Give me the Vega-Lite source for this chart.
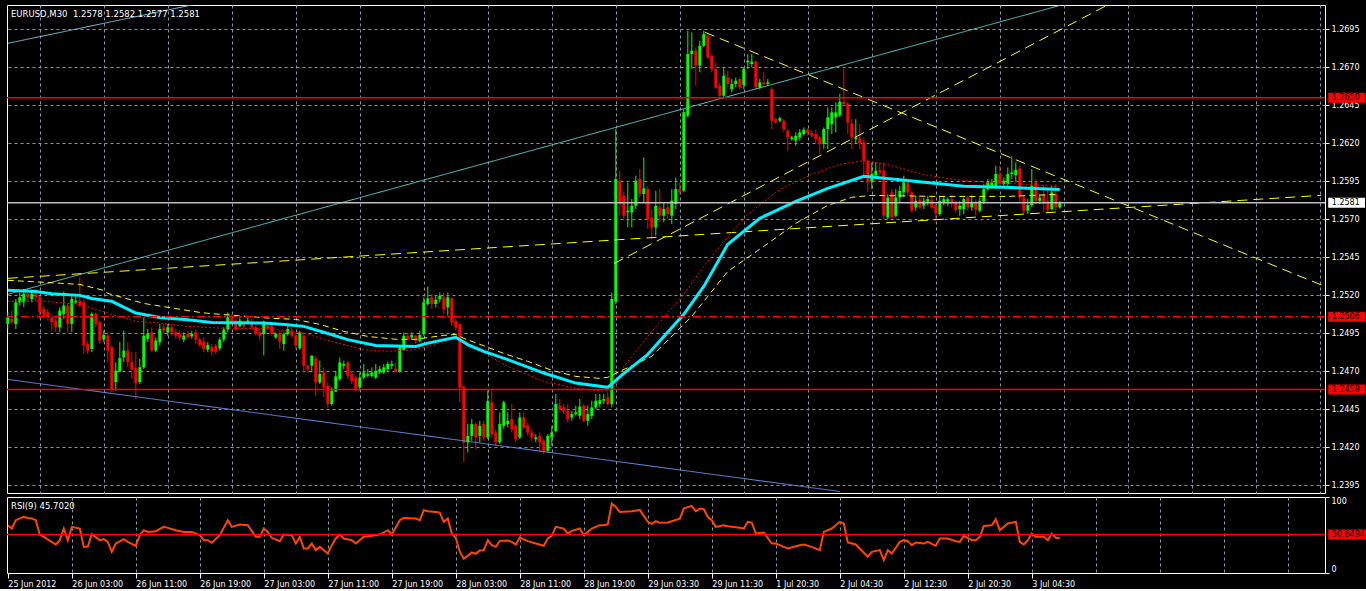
{
"$schema":"https://vega.github.io/schema/vega-lite/v6.json",
"background":"#000000",
"padding":{"left":5,"top":4,"right":0,"bottom":0},
"spacing":2,
"config":{"view":{"stroke":"#FFFFFF","strokeWidth":1},"axis":{"labelFont":"DejaVu Sans","labelFontSize":8,"labelColor":"#FFFFFF","tickColor":"#FFFFFF","gridColor":"#8594A3","gridDash":[3,3],"gridWidth":1,"domain":false}},
"datasets":{
"candles":[
{"i":0,"o":1.25012,"h":1.25089,"l":1.24979,"c":1.25056},
{"i":1,"o":1.25045,"h":1.25100,"l":1.25012,"c":1.25023},
{"i":2,"o":1.25012,"h":1.25176,"l":1.24979,"c":1.25154},
{"i":3,"o":1.25154,"h":1.25220,"l":1.25133,"c":1.25187},
{"i":4,"o":1.25154,"h":1.25242,"l":1.25122,"c":1.25209},
{"i":5,"o":1.25209,"h":1.25231,"l":1.25154,"c":1.25187},
{"i":6,"o":1.25176,"h":1.25225,"l":1.25154,"c":1.25209},
{"i":7,"o":1.25220,"h":1.25242,"l":1.25165,"c":1.25187},
{"i":8,"o":1.25187,"h":1.25198,"l":1.25045,"c":1.25089},
{"i":9,"o":1.25111,"h":1.25133,"l":1.25045,"c":1.25067},
{"i":10,"o":1.25089,"h":1.25111,"l":1.25034,"c":1.25056},
{"i":11,"o":1.25056,"h":1.25078,"l":1.24968,"c":1.25023},
{"i":12,"o":1.25034,"h":1.25067,"l":1.24957,"c":1.24990},
{"i":13,"o":1.24990,"h":1.25122,"l":1.24957,"c":1.25100},
{"i":14,"o":1.25078,"h":1.25225,"l":1.25045,"c":1.25133},
{"i":15,"o":1.25133,"h":1.25154,"l":1.24957,"c":1.25012},
{"i":16,"o":1.25012,"h":1.25209,"l":1.24957,"c":1.25176},
{"i":17,"o":1.25154,"h":1.25198,"l":1.25144,"c":1.25165},
{"i":18,"o":1.25165,"h":1.25319,"l":1.25122,"c":1.25133},
{"i":19,"o":1.25154,"h":1.25176,"l":1.24815,"c":1.24870},
{"i":20,"o":1.24881,"h":1.24903,"l":1.24815,"c":1.24837},
{"i":21,"o":1.24848,"h":1.25089,"l":1.24826,"c":1.25078},
{"i":22,"o":1.25078,"h":1.25089,"l":1.24990,"c":1.25012},
{"i":23,"o":1.25023,"h":1.25034,"l":1.24881,"c":1.24903},
{"i":24,"o":1.24909,"h":1.24968,"l":1.24892,"c":1.24941},
{"i":25,"o":1.24935,"h":1.24957,"l":1.24760,"c":1.24837},
{"i":26,"o":1.24859,"h":1.24870,"l":1.24563,"c":1.24585},
{"i":27,"o":1.24629,"h":1.24760,"l":1.24574,"c":1.24705},
{"i":28,"o":1.24699,"h":1.24892,"l":1.24694,"c":1.24787},
{"i":29,"o":1.24793,"h":1.24968,"l":1.24760,"c":1.24837},
{"i":30,"o":1.24837,"h":1.24892,"l":1.24727,"c":1.24760},
{"i":31,"o":1.24760,"h":1.24826,"l":1.24651,"c":1.24712},
{"i":32,"o":1.24721,"h":1.24826,"l":1.24519,"c":1.24625},
{"i":33,"o":1.24629,"h":1.24782,"l":1.24618,"c":1.24727},
{"i":34,"o":1.24727,"h":1.25056,"l":1.24716,"c":1.24935},
{"i":35,"o":1.24914,"h":1.24979,"l":1.24892,"c":1.24946},
{"i":36,"o":1.24957,"h":1.24990,"l":1.24826,"c":1.24837},
{"i":37,"o":1.24837,"h":1.24924,"l":1.24826,"c":1.24903},
{"i":38,"o":1.24892,"h":1.25012,"l":1.24870,"c":1.24979},
{"i":39,"o":1.24990,"h":1.25012,"l":1.24946,"c":1.24968},
{"i":40,"o":1.24957,"h":1.25012,"l":1.24935,"c":1.24990},
{"i":41,"o":1.24990,"h":1.25012,"l":1.24935,"c":1.24957},
{"i":42,"o":1.24957,"h":1.24979,"l":1.24914,"c":1.24935},
{"i":43,"o":1.24946,"h":1.24968,"l":1.24903,"c":1.24924},
{"i":44,"o":1.24909,"h":1.24957,"l":1.24892,"c":1.24935},
{"i":45,"o":1.24946,"h":1.24968,"l":1.24914,"c":1.24924},
{"i":46,"o":1.24930,"h":1.24968,"l":1.24914,"c":1.24946},
{"i":47,"o":1.24957,"h":1.24979,"l":1.24881,"c":1.24909},
{"i":48,"o":1.24909,"h":1.24924,"l":1.24859,"c":1.24874},
{"i":49,"o":1.24896,"h":1.24924,"l":1.24826,"c":1.24848},
{"i":50,"o":1.24843,"h":1.24892,"l":1.24826,"c":1.24874},
{"i":51,"o":1.24859,"h":1.24881,"l":1.24804,"c":1.24830},
{"i":52,"o":1.24870,"h":1.24881,"l":1.24815,"c":1.24830},
{"i":53,"o":1.24852,"h":1.24924,"l":1.24837,"c":1.24909},
{"i":54,"o":1.24909,"h":1.24990,"l":1.24892,"c":1.24975},
{"i":55,"o":1.24975,"h":1.25089,"l":1.24957,"c":1.25056},
{"i":56,"o":1.25049,"h":1.25078,"l":1.25012,"c":1.25027},
{"i":57,"o":1.25034,"h":1.25045,"l":1.24968,"c":1.24975},
{"i":58,"o":1.24997,"h":1.25056,"l":1.24990,"c":1.25034},
{"i":59,"o":1.25023,"h":1.25034,"l":1.24979,"c":1.24997},
{"i":60,"o":1.25023,"h":1.25056,"l":1.25012,"c":1.25034},
{"i":61,"o":1.25027,"h":1.25045,"l":1.24979,"c":1.24990},
{"i":62,"o":1.24990,"h":1.25001,"l":1.24935,"c":1.24946},
{"i":63,"o":1.24957,"h":1.24979,"l":1.24903,"c":1.24935},
{"i":64,"o":1.24946,"h":1.25034,"l":1.24804,"c":1.25023},
{"i":65,"o":1.25001,"h":1.25012,"l":1.24968,"c":1.24984},
{"i":66,"o":1.25001,"h":1.25012,"l":1.24935,"c":1.24946},
{"i":67,"o":1.24924,"h":1.24957,"l":1.24914,"c":1.24946},
{"i":68,"o":1.24951,"h":1.24968,"l":1.24848,"c":1.24897},
{"i":69,"o":1.24880,"h":1.24956,"l":1.24836,"c":1.24945},
{"i":70,"o":1.24945,"h":1.25000,"l":1.24934,"c":1.24978},
{"i":71,"o":1.24967,"h":1.24989,"l":1.24923,"c":1.24934},
{"i":72,"o":1.24934,"h":1.24956,"l":1.24847,"c":1.24869},
{"i":73,"o":1.24851,"h":1.24967,"l":1.24842,"c":1.24956},
{"i":74,"o":1.24934,"h":1.24956,"l":1.24693,"c":1.24737},
{"i":75,"o":1.24737,"h":1.24748,"l":1.24693,"c":1.24715},
{"i":76,"o":1.24737,"h":1.24807,"l":1.24693,"c":1.24803},
{"i":77,"o":1.24785,"h":1.24803,"l":1.24540,"c":1.24627},
{"i":78,"o":1.24627,"h":1.24770,"l":1.24616,"c":1.24682},
{"i":79,"o":1.24693,"h":1.24726,"l":1.24529,"c":1.24594},
{"i":80,"o":1.24605,"h":1.24627,"l":1.24463,"c":1.24485},
{"i":81,"o":1.24485,"h":1.24594,"l":1.24474,"c":1.24573},
{"i":82,"o":1.24566,"h":1.24704,"l":1.24562,"c":1.24667},
{"i":83,"o":1.24649,"h":1.24792,"l":1.24638,"c":1.24759},
{"i":84,"o":1.24737,"h":1.24770,"l":1.24715,"c":1.24748},
{"i":85,"o":1.24759,"h":1.24770,"l":1.24649,"c":1.24671},
{"i":86,"o":1.24682,"h":1.24704,"l":1.24616,"c":1.24638},
{"i":87,"o":1.24660,"h":1.24671,"l":1.24573,"c":1.24583},
{"i":88,"o":1.24594,"h":1.24693,"l":1.24573,"c":1.24660},
{"i":89,"o":1.24660,"h":1.24748,"l":1.24649,"c":1.24693},
{"i":90,"o":1.24671,"h":1.24715,"l":1.24660,"c":1.24682},
{"i":91,"o":1.24671,"h":1.24726,"l":1.24660,"c":1.24693},
{"i":92,"o":1.24660,"h":1.24748,"l":1.24649,"c":1.24704},
{"i":93,"o":1.24693,"h":1.24737,"l":1.24682,"c":1.24715},
{"i":94,"o":1.24693,"h":1.24748,"l":1.24682,"c":1.24726},
{"i":95,"o":1.24715,"h":1.24763,"l":1.24693,"c":1.24748},
{"i":96,"o":1.24737,"h":1.24770,"l":1.24715,"c":1.24748},
{"i":97,"o":1.24719,"h":1.24759,"l":1.24693,"c":1.24697},
{"i":98,"o":1.24697,"h":1.24869,"l":1.24693,"c":1.24858},
{"i":99,"o":1.24840,"h":1.24956,"l":1.24836,"c":1.24934},
{"i":100,"o":1.24934,"h":1.24956,"l":1.24901,"c":1.24912},
{"i":101,"o":1.24923,"h":1.24956,"l":1.24912,"c":1.24939},
{"i":102,"o":1.24934,"h":1.24939,"l":1.24880,"c":1.24901},
{"i":103,"o":1.24901,"h":1.24967,"l":1.24890,"c":1.24939},
{"i":104,"o":1.24945,"h":1.25187,"l":1.24934,"c":1.25154},
{"i":105,"o":1.25143,"h":1.25259,"l":1.25132,"c":1.25180},
{"i":106,"o":1.25187,"h":1.25208,"l":1.25110,"c":1.25143},
{"i":107,"o":1.25143,"h":1.25197,"l":1.25121,"c":1.25171},
{"i":108,"o":1.25176,"h":1.25219,"l":1.25154,"c":1.25197},
{"i":109,"o":1.25187,"h":1.25219,"l":1.25077,"c":1.25110},
{"i":110,"o":1.25121,"h":1.25219,"l":1.25066,"c":1.25187},
{"i":111,"o":1.25180,"h":1.25187,"l":1.25000,"c":1.25022},
{"i":112,"o":1.25033,"h":1.25044,"l":1.24967,"c":1.24989},
{"i":113,"o":1.25011,"h":1.25016,"l":1.24496,"c":1.24594},
{"i":114,"o":1.24601,"h":1.24605,"l":1.24101,"c":1.24233},
{"i":115,"o":1.24233,"h":1.24353,"l":1.24167,"c":1.24276},
{"i":116,"o":1.24276,"h":1.24386,"l":1.24244,"c":1.24353},
{"i":117,"o":1.24353,"h":1.24364,"l":1.24189,"c":1.24266},
{"i":118,"o":1.24276,"h":1.24375,"l":1.24233,"c":1.24342},
{"i":119,"o":1.24353,"h":1.24375,"l":1.24244,"c":1.24266},
{"i":120,"o":1.24266,"h":1.24573,"l":1.24255,"c":1.24507},
{"i":121,"o":1.24496,"h":1.24573,"l":1.24266,"c":1.24287},
{"i":122,"o":1.24298,"h":1.24320,"l":1.24211,"c":1.24233},
{"i":123,"o":1.24233,"h":1.24430,"l":1.24222,"c":1.24353},
{"i":124,"o":1.24342,"h":1.24507,"l":1.24320,"c":1.24496},
{"i":125,"o":1.24353,"h":1.24430,"l":1.24331,"c":1.24375},
{"i":126,"o":1.24386,"h":1.24485,"l":1.24298,"c":1.24320},
{"i":127,"o":1.24342,"h":1.24353,"l":1.24233,"c":1.24255},
{"i":128,"o":1.24266,"h":1.24430,"l":1.24255,"c":1.24397},
{"i":129,"o":1.24397,"h":1.24430,"l":1.24320,"c":1.24331},
{"i":130,"o":1.24342,"h":1.24364,"l":1.24276,"c":1.24298},
{"i":131,"o":1.24298,"h":1.24320,"l":1.24244,"c":1.24266},
{"i":132,"o":1.24255,"h":1.24287,"l":1.24233,"c":1.24266},
{"i":133,"o":1.24276,"h":1.24298,"l":1.24167,"c":1.24233},
{"i":134,"o":1.24244,"h":1.24255,"l":1.24156,"c":1.24178},
{"i":135,"o":1.24178,"h":1.24287,"l":1.24167,"c":1.24276},
{"i":136,"o":1.24266,"h":1.24342,"l":1.24211,"c":1.24298},
{"i":137,"o":1.24309,"h":1.24551,"l":1.24298,"c":1.24485},
{"i":138,"o":1.24474,"h":1.24518,"l":1.24430,"c":1.24452},
{"i":139,"o":1.24463,"h":1.24485,"l":1.24419,"c":1.24441},
{"i":140,"o":1.24441,"h":1.24485,"l":1.24364,"c":1.24386},
{"i":141,"o":1.24397,"h":1.24441,"l":1.24375,"c":1.24419},
{"i":142,"o":1.24419,"h":1.24474,"l":1.24408,"c":1.24430},
{"i":143,"o":1.24408,"h":1.24518,"l":1.24386,"c":1.24469},
{"i":144,"o":1.24474,"h":1.24485,"l":1.24364,"c":1.24375},
{"i":145,"o":1.24375,"h":1.24474,"l":1.24342,"c":1.24419},
{"i":146,"o":1.24408,"h":1.24507,"l":1.24386,"c":1.24463},
{"i":147,"o":1.24463,"h":1.24551,"l":1.24452,"c":1.24507},
{"i":148,"o":1.24485,"h":1.24551,"l":1.24463,"c":1.24511},
{"i":149,"o":1.24507,"h":1.24551,"l":1.24485,"c":1.24518},
{"i":150,"o":1.24529,"h":1.24562,"l":1.24474,"c":1.24485},
{"i":151,"o":1.24485,"h":1.25219,"l":1.24463,"c":1.25176},
{"i":152,"o":1.25160,"h":1.26294,"l":1.25140,"c":1.25965},
{"i":153,"o":1.25954,"h":1.26020,"l":1.25724,"c":1.25801},
{"i":154,"o":1.25856,"h":1.25889,"l":1.25702,"c":1.25724},
{"i":155,"o":1.25746,"h":1.25943,"l":1.25647,"c":1.25757},
{"i":156,"o":1.25746,"h":1.25834,"l":1.25647,"c":1.25790},
{"i":157,"o":1.25790,"h":1.25987,"l":1.25768,"c":1.25954},
{"i":158,"o":1.25965,"h":1.26031,"l":1.25845,"c":1.25867},
{"i":159,"o":1.25867,"h":1.26108,"l":1.25812,"c":1.25904},
{"i":160,"o":1.25899,"h":1.25921,"l":1.25636,"c":1.25702},
{"i":161,"o":1.25713,"h":1.25768,"l":1.25571,"c":1.25647},
{"i":162,"o":1.25647,"h":1.25889,"l":1.25593,"c":1.25790},
{"i":163,"o":1.25779,"h":1.25899,"l":1.25680,"c":1.25724},
{"i":164,"o":1.25724,"h":1.25812,"l":1.25680,"c":1.25768},
{"i":165,"o":1.25779,"h":1.25812,"l":1.25702,"c":1.25735},
{"i":166,"o":1.25724,"h":1.25899,"l":1.25669,"c":1.25823},
{"i":167,"o":1.25801,"h":1.25976,"l":1.25768,"c":1.25899},
{"i":168,"o":1.25899,"h":1.25943,"l":1.25856,"c":1.25878},
{"i":169,"o":1.25889,"h":1.26426,"l":1.25878,"c":1.26404},
{"i":170,"o":1.26382,"h":1.26941,"l":1.26371,"c":1.26788},
{"i":171,"o":1.26788,"h":1.26930,"l":1.26689,"c":1.26810},
{"i":172,"o":1.26810,"h":1.26832,"l":1.26579,"c":1.26711},
{"i":173,"o":1.26711,"h":1.26875,"l":1.26667,"c":1.26842},
{"i":174,"o":1.26842,"h":1.26941,"l":1.26832,"c":1.26919},
{"i":175,"o":1.26908,"h":1.26919,"l":1.26755,"c":1.26766},
{"i":176,"o":1.26777,"h":1.26788,"l":1.26667,"c":1.26689},
{"i":177,"o":1.26689,"h":1.26733,"l":1.26557,"c":1.26568},
{"i":178,"o":1.26579,"h":1.26601,"l":1.26492,"c":1.26513},
{"i":179,"o":1.26513,"h":1.26700,"l":1.26502,"c":1.26645},
{"i":180,"o":1.26634,"h":1.26678,"l":1.26568,"c":1.26590},
{"i":181,"o":1.26557,"h":1.26623,"l":1.26535,"c":1.26590},
{"i":182,"o":1.26590,"h":1.26634,"l":1.26568,"c":1.26612},
{"i":183,"o":1.26623,"h":1.26634,"l":1.26557,"c":1.26568},
{"i":184,"o":1.26584,"h":1.26700,"l":1.26557,"c":1.26690},
{"i":185,"o":1.26733,"h":1.26788,"l":1.26689,"c":1.26744},
{"i":186,"o":1.26722,"h":1.26788,"l":1.26700,"c":1.26738},
{"i":187,"o":1.26738,"h":1.26744,"l":1.26557,"c":1.26568},
{"i":188,"o":1.26568,"h":1.26623,"l":1.26557,"c":1.26601},
{"i":189,"o":1.26601,"h":1.26667,"l":1.26579,"c":1.26590},
{"i":190,"o":1.26590,"h":1.26623,"l":1.26579,"c":1.26601},
{"i":191,"o":1.26557,"h":1.26568,"l":1.26294,"c":1.26349},
{"i":192,"o":1.26360,"h":1.26371,"l":1.26327,"c":1.26338},
{"i":193,"o":1.26349,"h":1.26375,"l":1.26338,"c":1.26365},
{"i":194,"o":1.26349,"h":1.26360,"l":1.26272,"c":1.26294},
{"i":195,"o":1.26283,"h":1.26294,"l":1.26152,"c":1.26239},
{"i":196,"o":1.26229,"h":1.26250,"l":1.26218,"c":1.26239},
{"i":197,"o":1.26218,"h":1.26272,"l":1.26185,"c":1.26250},
{"i":198,"o":1.26239,"h":1.26294,"l":1.26218,"c":1.26272},
{"i":199,"o":1.26261,"h":1.26305,"l":1.26250,"c":1.26290},
{"i":200,"o":1.26290,"h":1.26299,"l":1.26250,"c":1.26268},
{"i":201,"o":1.26268,"h":1.26283,"l":1.26239,"c":1.26250},
{"i":202,"o":1.26261,"h":1.26290,"l":1.26196,"c":1.26229},
{"i":203,"o":1.26239,"h":1.26250,"l":1.26130,"c":1.26196},
{"i":204,"o":1.26196,"h":1.26305,"l":1.26163,"c":1.26294},
{"i":205,"o":1.26294,"h":1.26437,"l":1.26163,"c":1.26371},
{"i":206,"o":1.26327,"h":1.26437,"l":1.26261,"c":1.26404},
{"i":207,"o":1.26371,"h":1.26470,"l":1.26272,"c":1.26404},
{"i":208,"o":1.26386,"h":1.26524,"l":1.26371,"c":1.26474},
{"i":209,"o":1.26474,"h":1.26689,"l":1.26448,"c":1.26459},
{"i":210,"o":1.26463,"h":1.26470,"l":1.26261,"c":1.26338},
{"i":211,"o":1.26331,"h":1.26360,"l":1.26163,"c":1.26239},
{"i":212,"o":1.26229,"h":1.26360,"l":1.26196,"c":1.26239},
{"i":213,"o":1.26233,"h":1.26327,"l":1.26163,"c":1.26203},
{"i":214,"o":1.26206,"h":1.26239,"l":1.25987,"c":1.26086},
{"i":215,"o":1.26086,"h":1.26097,"l":1.25877,"c":1.25943},
{"i":216,"o":1.25948,"h":1.26075,"l":1.25899,"c":1.25998},
{"i":217,"o":1.25991,"h":1.26075,"l":1.25965,"c":1.26020},
{"i":218,"o":1.26026,"h":1.26075,"l":1.25987,"c":1.26009},
{"i":219,"o":1.26020,"h":1.26075,"l":1.25702,"c":1.25724},
{"i":220,"o":1.25713,"h":1.25866,"l":1.25702,"c":1.25844},
{"i":221,"o":1.25877,"h":1.25899,"l":1.25702,"c":1.25713},
{"i":222,"o":1.25724,"h":1.25899,"l":1.25713,"c":1.25844},
{"i":223,"o":1.25844,"h":1.25921,"l":1.25812,"c":1.25888},
{"i":224,"o":1.25877,"h":1.25987,"l":1.25844,"c":1.25943},
{"i":225,"o":1.25943,"h":1.25954,"l":1.25855,"c":1.25877},
{"i":226,"o":1.25877,"h":1.25888,"l":1.25746,"c":1.25757},
{"i":227,"o":1.25779,"h":1.25855,"l":1.25757,"c":1.25822},
{"i":228,"o":1.25829,"h":1.25855,"l":1.25768,"c":1.25779},
{"i":229,"o":1.25790,"h":1.25844,"l":1.25768,"c":1.25822},
{"i":230,"o":1.25816,"h":1.25855,"l":1.25790,"c":1.25833},
{"i":231,"o":1.25829,"h":1.25855,"l":1.25768,"c":1.25779},
{"i":232,"o":1.25794,"h":1.25801,"l":1.25691,"c":1.25741},
{"i":233,"o":1.25735,"h":1.25855,"l":1.25724,"c":1.25822},
{"i":234,"o":1.25812,"h":1.25855,"l":1.25790,"c":1.25833},
{"i":235,"o":1.25816,"h":1.25844,"l":1.25785,"c":1.25833},
{"i":236,"o":1.25833,"h":1.25855,"l":1.25779,"c":1.25812},
{"i":237,"o":1.25816,"h":1.25822,"l":1.25746,"c":1.25761},
{"i":238,"o":1.25768,"h":1.25822,"l":1.25724,"c":1.25790},
{"i":239,"o":1.25768,"h":1.25844,"l":1.25735,"c":1.25833},
{"i":240,"o":1.25844,"h":1.25855,"l":1.25757,"c":1.25779},
{"i":241,"o":1.25779,"h":1.25855,"l":1.25757,"c":1.25812},
{"i":242,"o":1.25816,"h":1.25833,"l":1.25724,"c":1.25764},
{"i":243,"o":1.25757,"h":1.25844,"l":1.25746,"c":1.25822},
{"i":244,"o":1.25816,"h":1.25932,"l":1.25801,"c":1.25899},
{"i":245,"o":1.25899,"h":1.25965,"l":1.25888,"c":1.25943},
{"i":246,"o":1.25921,"h":1.25965,"l":1.25899,"c":1.25943},
{"i":247,"o":1.25921,"h":1.26053,"l":1.25899,"c":1.25998},
{"i":248,"o":1.25998,"h":1.26053,"l":1.25899,"c":1.25932},
{"i":249,"o":1.25932,"h":1.25976,"l":1.25917,"c":1.25954},
{"i":250,"o":1.25932,"h":1.26042,"l":1.25921,"c":1.25998},
{"i":251,"o":1.25998,"h":1.26114,"l":1.25965,"c":1.26009},
{"i":252,"o":1.25991,"h":1.26075,"l":1.25943,"c":1.26026},
{"i":253,"o":1.26035,"h":1.26053,"l":1.25812,"c":1.25844},
{"i":254,"o":1.25844,"h":1.25855,"l":1.25735,"c":1.25757},
{"i":255,"o":1.25757,"h":1.25833,"l":1.25735,"c":1.25794},
{"i":256,"o":1.25794,"h":1.26031,"l":1.25779,"c":1.25921},
{"i":257,"o":1.25943,"h":1.25965,"l":1.25801,"c":1.25822},
{"i":258,"o":1.25822,"h":1.25866,"l":1.25801,"c":1.25844},
{"i":259,"o":1.25860,"h":1.25921,"l":1.25746,"c":1.25801},
{"i":260,"o":1.25822,"h":1.25899,"l":1.25746,"c":1.25764},
{"i":261,"o":1.25768,"h":1.25921,"l":1.25757,"c":1.25877},
{"i":262,"o":1.25866,"h":1.25932,"l":1.25757,"c":1.25779},
{"i":263,"o":1.2578,"h":1.2582,"l":1.2577,"c":1.2581}
],
"trend":[
{"s":"A","i":0,"p":1.26858},{"s":"A","i":48,"p":1.27121},
{"s":"B","i":0,"p":1.25207},{"s":"B","i":263,"p":1.27107},
{"s":"C","i":0,"p":1.24647},{"s":"C","i":208,"p":1.23910},
{"s":"Y1","i":0,"p":1.25312},{"s":"Y1","i":328.3,"p":1.25858},
{"s":"Y2","i":151.6,"p":1.25410},{"s":"Y2","i":274.8,"p":1.27108},
{"s":"Y3","i":174.3,"p":1.26930},{"s":"Y3","i":328.6,"p":1.25266}
],
"fast":[
{"i":0,"p":1.25233},{"i":7,"p":1.25226},{"i":11,"p":1.25211},{"i":18,"p":1.25200},{"i":21,"p":1.25180},{"i":26,"p":1.25161},{"i":32,"p":1.25084},{"i":38,"p":1.25055},{"i":45,"p":1.25040},{"i":51,"p":1.25022},{"i":64,"p":1.25018},{"i":70,"p":1.25007},{"i":74,"p":1.24996},{"i":79,"p":1.24957},{"i":85,"p":1.24909},{"i":92,"p":1.24871},{"i":102,"p":1.24864},{"i":105,"p":1.24886},{"i":112,"p":1.24924},{"i":115,"p":1.24876},{"i":119,"p":1.24832},{"i":125,"p":1.24777},{"i":134,"p":1.24689},{"i":142,"p":1.24623},{"i":150,"p":1.24595},{"i":154,"p":1.24687},{"i":160,"p":1.24812},{"i":169,"p":1.25075},{"i":174,"p":1.25259},{"i":180,"p":1.25536},{"i":188,"p":1.25707},{"i":197,"p":1.25818},{"i":205,"p":1.25904},{"i":214,"p":1.25983},{"i":223,"p":1.25961},{"i":239,"p":1.25917},{"i":249,"p":1.25911},{"i":263,"p":1.25897}
],
"slowmas":[
{"s":"mid","i":0,"p":1.25161},{"s":"mid","i":9,"p":1.25161},{"s":"mid","i":18,"p":1.25141},{"s":"mid","i":26,"p":1.25075},{"s":"mid","i":32,"p":1.25029},{"s":"mid","i":38,"p":1.25018},{"s":"mid","i":45,"p":1.24996},{"s":"mid","i":53,"p":1.24985},{"s":"mid","i":65,"p":1.24981},{"s":"mid","i":74,"p":1.24952},{"s":"mid","i":81,"p":1.24897},{"s":"mid","i":89,"p":1.24843},{"s":"mid","i":95,"p":1.24832},{"s":"mid","i":102,"p":1.24843},{"s":"mid","i":105,"p":1.24864},{"s":"mid","i":112,"p":1.24919},{"s":"mid","i":115,"p":1.24864},{"s":"mid","i":119,"p":1.24820},{"s":"mid","i":125,"p":1.24733},{"s":"mid","i":134,"p":1.24634},{"s":"mid","i":142,"p":1.24590},{"s":"mid","i":149,"p":1.24569},{"s":"mid","i":152,"p":1.24595},{"s":"mid","i":154,"p":1.24733},{"s":"mid","i":161,"p":1.24963},{"s":"mid","i":169,"p":1.25207},{"s":"mid","i":174,"p":1.25391},{"s":"mid","i":179,"p":1.25555},{"s":"mid","i":185,"p":1.25733},{"s":"mid","i":193,"p":1.25897},{"s":"mid","i":201,"p":1.25996},{"s":"mid","i":208,"p":1.26062},{"s":"mid","i":214,"p":1.26086},{"s":"mid","i":220,"p":1.26060},{"s":"mid","i":229,"p":1.25994},{"s":"mid","i":237,"p":1.25961},{"s":"mid","i":245,"p":1.25943},{"s":"mid","i":254,"p":1.25932},{"s":"mid","i":262,"p":1.25917},
{"s":"slow","i":0,"p":1.25299},{"s":"slow","i":9,"p":1.25286},{"s":"slow","i":18,"p":1.25272},{"s":"slow","i":20,"p":1.25259},{"s":"slow","i":24,"p":1.25233},{"s":"slow","i":25,"p":1.25213},{"s":"slow","i":34,"p":1.25147},{"s":"slow","i":37,"p":1.25134},{"s":"slow","i":48,"p":1.25088},{"s":"slow","i":50,"p":1.25082},{"s":"slow","i":66,"p":1.25049},{"s":"slow","i":72,"p":1.25042},{"s":"slow","i":78,"p":1.25009},{"s":"slow","i":84,"p":1.24963},{"s":"slow","i":90,"p":1.24930},{"s":"slow","i":97,"p":1.24911},{"s":"slow","i":102,"p":1.24911},{"s":"slow","i":109,"p":1.24937},{"s":"slow","i":112,"p":1.24943},{"s":"slow","i":114,"p":1.24917},{"s":"slow","i":118,"p":1.24878},{"s":"slow","i":124,"p":1.24818},{"s":"slow","i":130,"p":1.24766},{"s":"slow","i":136,"p":1.24707},{"s":"slow","i":142,"p":1.24667},{"s":"slow","i":148,"p":1.24654},{"s":"slow","i":150,"p":1.24661},{"s":"slow","i":153,"p":1.24700},{"s":"slow","i":161,"p":1.24799},{"s":"slow","i":171,"p":1.25062},{"s":"slow","i":180,"p":1.25358},{"s":"slow","i":189,"p":1.25522},{"s":"slow","i":197,"p":1.25674},{"s":"slow","i":205,"p":1.25792},{"s":"slow","i":211,"p":1.25845},{"s":"slow","i":216,"p":1.25858},{"s":"slow","i":232,"p":1.25851},{"s":"slow","i":250,"p":1.25851},{"s":"slow","i":262,"p":1.25864}
],
"levels":[
{"p":1.2650,"t":"res","lab":"1.2650"},
{"p":1.2506,"t":"alert","lab":"1.2506"},
{"p":1.2458,"t":"res","lab":"1.2458"},
{"p":1.2581,"t":"bid","lab":"1.2581"}
],
"rsi":[
{"i":0,"v":62.9},{"i":1,"v":58.5},{"i":2,"v":69.5},{"i":4,"v":73.8},{"i":5,"v":72.5},{"i":6,"v":71.6},{"i":7,"v":69.5},{"i":8,"v":50.6},{"i":9,"v":47.6},{"i":12,"v":37.5},{"i":13,"v":43.2},{"i":14,"v":58.5},{"i":15,"v":43.2},{"i":16,"v":60.7},{"i":18,"v":58.5},{"i":19,"v":34.4},{"i":20,"v":34.4},{"i":21,"v":51.1},{"i":23,"v":43.2},{"i":24,"v":44.5},{"i":25,"v":41.0},{"i":26,"v":27.9},{"i":27,"v":38.8},{"i":29,"v":44.5},{"i":30,"v":41.0},{"i":32,"v":35.8},{"i":33,"v":49.8},{"i":34,"v":56.3},{"i":35,"v":54.1},{"i":37,"v":55.0},{"i":39,"v":60.7},{"i":40,"v":59.4},{"i":42,"v":56.3},{"i":44,"v":54.1},{"i":46,"v":54.1},{"i":48,"v":49.8},{"i":49,"v":43.2},{"i":50,"v":43.2},{"i":51,"v":39.7},{"i":53,"v":49.8},{"i":55,"v":69.5},{"i":56,"v":60.7},{"i":58,"v":63.8},{"i":60,"v":62.9},{"i":62,"v":47.6},{"i":63,"v":47.6},{"i":64,"v":58.5},{"i":65,"v":54.1},{"i":66,"v":46.3},{"i":68,"v":41.9},{"i":69,"v":50.6},{"i":71,"v":49.8},{"i":72,"v":38.8},{"i":73,"v":47.6},{"i":74,"v":32.3},{"i":75,"v":32.3},{"i":76,"v":38.8},{"i":77,"v":30.1},{"i":78,"v":34.4},{"i":80,"v":25.7},{"i":81,"v":36.6},{"i":82,"v":45.4},{"i":83,"v":50.6},{"i":84,"v":45.4},{"i":86,"v":43.2},{"i":87,"v":38.8},{"i":89,"v":47.6},{"i":91,"v":48.9},{"i":93,"v":50.6},{"i":95,"v":56.3},{"i":96,"v":50.6},{"i":98,"v":69.5},{"i":99,"v":72.5},{"i":102,"v":71.6},{"i":103,"v":69.5},{"i":104,"v":82.6},{"i":105,"v":81.3},{"i":107,"v":80.4},{"i":108,"v":79.5},{"i":109,"v":67.3},{"i":110,"v":71.6},{"i":111,"v":52.0},{"i":112,"v":46.0},{"i":113,"v":28.0},{"i":114,"v":19.1},{"i":115,"v":22.6},{"i":116,"v":27.0},{"i":117,"v":25.3},{"i":118,"v":29.6},{"i":119,"v":30.1},{"i":120,"v":43.2},{"i":121,"v":36.6},{"i":122,"v":34.4},{"i":123,"v":42.3},{"i":125,"v":42.8},{"i":126,"v":41.0},{"i":127,"v":37.5},{"i":128,"v":46.7},{"i":130,"v":41.9},{"i":132,"v":38.8},{"i":134,"v":35.8},{"i":135,"v":45.4},{"i":136,"v":48.9},{"i":137,"v":60.7},{"i":139,"v":58.5},{"i":140,"v":51.9},{"i":141,"v":55.4},{"i":143,"v":58.5},{"i":144,"v":49.8},{"i":145,"v":54.1},{"i":146,"v":58.5},{"i":148,"v":62.9},{"i":149,"v":62.9},{"i":150,"v":64.0},{"i":151,"v":91.3},{"i":152,"v":87.0},{"i":153,"v":80.4},{"i":156,"v":81.3},{"i":158,"v":83.0},{"i":160,"v":67.3},{"i":161,"v":64.6},{"i":162,"v":68.1},{"i":163,"v":66.0},{"i":165,"v":66.4},{"i":168,"v":71.6},{"i":169,"v":84.8},{"i":171,"v":88.3},{"i":172,"v":81.3},{"i":173,"v":84.8},{"i":174,"v":84.0},{"i":175,"v":74.0},{"i":176,"v":69.5},{"i":177,"v":60.7},{"i":179,"v":62.9},{"i":180,"v":61.6},{"i":183,"v":59.4},{"i":184,"v":58.5},{"i":185,"v":67.3},{"i":186,"v":66.4},{"i":187,"v":52.0},{"i":189,"v":53.3},{"i":191,"v":38.8},{"i":192,"v":38.8},{"i":194,"v":34.4},{"i":195,"v":32.3},{"i":198,"v":36.6},{"i":199,"v":37.5},{"i":201,"v":34.4},{"i":203,"v":30.1},{"i":204,"v":54.1},{"i":206,"v":58.5},{"i":208,"v":67.3},{"i":209,"v":65.1},{"i":210,"v":40.1},{"i":212,"v":37.5},{"i":215,"v":21.3},{"i":216,"v":27.9},{"i":218,"v":30.1},{"i":219,"v":17.0},{"i":220,"v":30.1},{"i":221,"v":25.7},{"i":223,"v":41.0},{"i":224,"v":43.2},{"i":225,"v":41.9},{"i":226,"v":36.6},{"i":227,"v":40.1},{"i":229,"v":38.8},{"i":230,"v":41.0},{"i":232,"v":35.8},{"i":233,"v":45.4},{"i":235,"v":45.4},{"i":237,"v":41.9},{"i":238,"v":41.0},{"i":239,"v":48.9},{"i":241,"v":43.2},{"i":242,"v":43.2},{"i":243,"v":47.6},{"i":244,"v":62.0},{"i":246,"v":62.9},{"i":247,"v":70.8},{"i":248,"v":56.3},{"i":250,"v":65.1},{"i":252,"v":67.3},{"i":253,"v":41.0},{"i":254,"v":37.5},{"i":255,"v":43.2},{"i":256,"v":51.9},{"i":257,"v":47.6},{"i":259,"v":47.6},{"i":260,"v":43.2},{"i":261,"v":51.9},{"i":262,"v":46.3},{"i":263,"v":45.7}
],
"rsilevel":[{"v":50.6494,"lab":"50.6494"}],
"maintitle":[{"t":"EURUSD,M30\u00a0\u00a01.2578 1.2582 1.2577 1.2581"}],
"rsititle":[{"t":"RSI(9) 45.7020"}]
},
"vconcat":[
{
"width":1318,"height":488,
"resolve":{"scale":{"color":"independent","strokeDash":"independent","strokeWidth":"independent"}},
"layer":[
{"data":{"name":"candles"},"mark":{"type":"rule","strokeWidth":1},
"encoding":{
"x":{"field":"i","type":"quantitative","title":null,"scale":{"domain":[-0.2,329.3],"nice":false,"zero":false,"padding":0},"axis":{"values":[8,16,24,32,40,48,56,64,72,80,88,96,104,112,120,128,136,144,152,160,168,176,184,192,200,208,216,224,232,240,248,256,264,272,280,288,296,304,312,320,328],"grid":true,"labels":false,"ticks":false,"domain":false}},
"y":{"field":"l","type":"quantitative","title":null,"scale":{"domain":[1.2390,1.2711],"nice":false,"zero":false,"padding":0},"axis":{"orient":"right","values":[1.2395,1.242,1.2445,1.247,1.2495,1.252,1.2545,1.257,1.2595,1.262,1.2645,1.267,1.2695],"format":".4f","tickSize":4,"labelPadding":2,"grid":true,"labelOverlap":false,"labelBound":false,"labelFlush":false}},
"y2":{"field":"h"},
"color":{"condition":{"test":"datum.c >= datum.o","value":"#00FF00"},"value":"#FF0000"}}},
{"data":{"name":"candles"},"mark":{"type":"bar","size":3},
"encoding":{
"x":{"field":"i","type":"quantitative","title":null},
"y":{"field":"o","type":"quantitative","title":null},
"y2":{"field":"c"},
"color":{"condition":{"test":"datum.c >= datum.o","value":"#00FF00"},"value":"#FF0000"}}},
{"data":{"name":"trend"},"mark":{"type":"line","strokeWidth":1,"clip":true},
"encoding":{
"x":{"field":"i","type":"quantitative","title":null},
"y":{"field":"p","type":"quantitative","title":null},
"color":{"field":"s","type":"nominal","legend":null,"scale":{"domain":["A","B","C","Y1","Y2","Y3"],"range":["#7EC8E8","#5CCCCC","#6495ED","#FFFF00","#FFFF00","#FFFF00"]}},
"strokeDash":{"field":"s","type":"nominal","legend":null,"scale":{"domain":["A","B","C","Y1","Y2","Y3"],"range":[[1,0],[1,0],[1,0],[10,6],[10,6],[10,6]]}}}},
{"data":{"name":"slowmas"},"mark":{"type":"line","strokeWidth":1,"clip":true},
"encoding":{
"x":{"field":"i","type":"quantitative","title":null},
"y":{"field":"p","type":"quantitative","title":null},
"color":{"field":"s","type":"nominal","legend":null,"scale":{"domain":["mid","slow"],"range":["#FF0000","#FFFF00"]}},
"strokeDash":{"field":"s","type":"nominal","legend":null,"scale":{"domain":["mid","slow"],"range":[[2,2],[6,4]]}}}},
{"data":{"name":"fast"},"mark":{"type":"line","strokeWidth":3,"color":"#00F0FF","clip":true},
"encoding":{
"x":{"field":"i","type":"quantitative","title":null},
"y":{"field":"p","type":"quantitative","title":null}}},
{"data":{"name":"levels"},"mark":{"type":"rule","strokeWidth":1.5},
"encoding":{
"y":{"field":"p","type":"quantitative","title":null},
"color":{"field":"t","type":"nominal","legend":null,"scale":{"domain":["res","alert","bid"],"range":["#FF0000","#FF0000","#C0C0C0"]}},
"strokeDash":{"field":"t","type":"nominal","legend":null,"scale":{"domain":["res","alert","bid"],"range":[[1,0],[8,3,2,3],[1,0]]}}}},
{"data":{"name":"levels"},"mark":{"type":"bar","size":10},
"encoding":{
"x":{"datum":330.1},"x2":{"datum":339.3},
"y":{"field":"p","type":"quantitative","title":null},
"color":{"field":"t","type":"nominal","legend":null,"scale":{"domain":["res","alert","bid"],"range":["#FF0000","#FF0000","#FFFFFF"]}}}},
{"data":{"name":"levels"},"mark":{"type":"text","align":"left","baseline":"middle","font":"DejaVu Sans","fontSize":8,"color":"#000000"},
"encoding":{
"x":{"datum":331},
"y":{"field":"p","type":"quantitative","title":null},
"text":{"field":"lab"}}},
{"data":{"name":"maintitle"},"mark":{"type":"text","align":"left","baseline":"middle","font":"DejaVu Sans","fontSize":8.5,"color":"#FFFFFF"},
"encoding":{"x":{"datum":0.8},"y":{"datum":1.27053},"text":{"field":"t"}}}
]
},
{
"width":1318,"height":76,
"layer":[
{"data":{"name":"rsi"},"mark":{"type":"line","color":"#FF4500","strokeWidth":2,"clip":true},
"encoding":{
"x":{"field":"i","type":"quantitative","title":null,"scale":{"domain":[-0.2,329.3],"nice":false,"zero":false,"padding":0},
"axis":{"values":[0,8,16,24,32,40,48,56,64,72,80,88,96,104,112,120,128,136,144,152,160,168,176,184,192,200,208,216,224,232,240,248,256,264,272,280,288,296,304,312,320,328],"grid":true,
"gridOpacity":{"condition":{"test":"datum.value > 0","value":1},"value":0},
"tickSize":5,
"tickOpacity":{"condition":{"test":"datum.value % 16 === 0 && datum.value <= 256","value":1},"value":0},
"labelExpr":"datum.value % 16 === 0 && datum.value <= 256 ? ['25 Jun 2012','26 Jun 03:00','26 Jun 11:00','26 Jun 19:00','27 Jun 03:00','27 Jun 11:00','27 Jun 19:00','28 Jun 03:00','28 Jun 11:00','28 Jun 19:00','29 Jun 03:30','29 Jun 11:30','1 Jul 20:30','2 Jul 04:30','2 Jul 12:30','2 Jul 20:30','3 Jul 04:30'][datum.value / 16] : ''",
"labelAlign":"left","labelBaseline":"top","labelPadding":2,"labelOverlap":false,"labelFlush":false,"labelBound":false,"domain":false}},
"y":{"field":"v","type":"quantitative","title":null,"scale":{"domain":[0,100],"nice":false,"zero":false,"padding":0},
"axis":{"orient":"right","values":[0,20,80,100],"tickSize":4,"labelPadding":2,"grid":true,
"gridOpacity":{"condition":{"test":"datum.value === 20 || datum.value === 80","value":1},"value":0},
"labelBaseline":{"condition":[{"test":"datum.value === 100","value":"top"},{"test":"datum.value === 0","value":"bottom"}],"value":"middle"},
"labelOverlap":false,"labelFlush":false,"labelBound":false}}}},
{"data":{"name":"rsilevel"},"mark":{"type":"rule","color":"#FF0000","strokeWidth":1.5},
"encoding":{"y":{"field":"v","type":"quantitative","title":null}}},
{"data":{"name":"rsilevel"},"mark":{"type":"bar","color":"#FF0000","size":10},
"encoding":{"x":{"datum":330.1},"x2":{"datum":340},"y":{"field":"v","type":"quantitative","title":null}}},
{"data":{"name":"rsilevel"},"mark":{"type":"text","align":"left","baseline":"middle","font":"DejaVu Sans","fontSize":8,"color":"#000000"},
"encoding":{"x":{"datum":331},"y":{"field":"v","type":"quantitative","title":null},"text":{"field":"lab"}}},
{"data":{"name":"rsititle"},"mark":{"type":"text","align":"left","baseline":"middle","font":"DejaVu Sans","fontSize":8.5,"color":"#FFFFFF"},
"encoding":{"x":{"datum":0.8},"y":{"datum":88},"text":{"field":"t"}}}
]
}
]
}
